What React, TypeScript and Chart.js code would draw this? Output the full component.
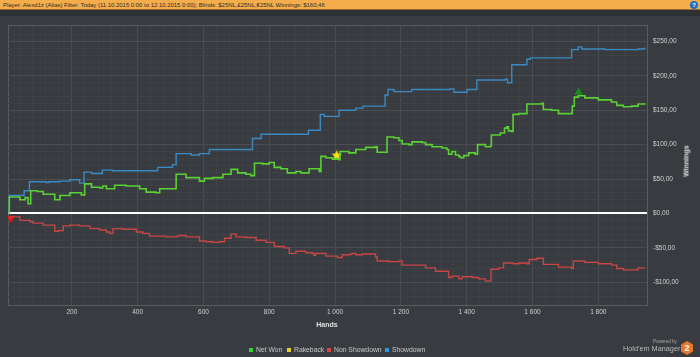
import React, { useEffect, useRef } from "react";
import { Chart, registerables } from "chart.js";
Chart.register(...registerables);

// ---- data (hands, winnings in $) ----
const netWonHands = [9, 10, 42, 58, 67, 75, 95, 113, 133, 148, 164, 194, 229, 239, 260, 285, 294, 305, 330, 365, 406, 426, 456, 467, 507, 517, 547, 588, 603, 628, 659, 684, 704, 729, 744, 755, 780, 800, 815, 835, 855, 881, 896, 916, 921, 941, 952, 957, 972, 992, 1012, 1015, 1042, 1063, 1093, 1123, 1128, 1153, 1158, 1179, 1194, 1204, 1224, 1234, 1265, 1275, 1295, 1325, 1340, 1345, 1355, 1366, 1376, 1381, 1391, 1406, 1426, 1433, 1457, 1472, 1475, 1502, 1515, 1522, 1527, 1537, 1541, 1558, 1578, 1583, 1628, 1633, 1658, 1679, 1717, 1721, 1727, 1739, 1759, 1800, 1840, 1856, 1876, 1901, 1921, 1941];
const netWonValues = [0, 24, 20, 23, 14, 33, 32, 28, 28, 20, 26, 30, 27, 43, 38, 37, 40, 36, 41, 40, 36, 31, 30, 36, 36, 57, 52, 47, 51, 52, 57, 64, 59, 57, 55, 73, 72, 74, 67, 65, 59, 61, 59, 59, 65, 65, 61, 83, 81, 79, 78, 90, 88, 93, 96, 97, 89, 89, 111, 110, 106, 101, 100, 104, 103, 100, 97, 95, 93, 86, 90, 85, 83, 81, 84, 88, 86, 100, 97, 98, 114, 117, 124, 126, 120, 119, 144, 145, 145, 159, 160, 151, 150, 145, 145, 156, 169, 171, 168, 165, 162, 157, 155, 156, 159, 160];

const showdownHands = [9, 10, 55, 71, 123, 130, 164, 194, 224, 237, 260, 293, 324, 461, 506, 517, 563, 588, 618, 749, 775, 919, 955, 967, 1012, 1063, 1085, 1152, 1161, 1179, 1233, 1350, 1361, 1401, 1431, 1517, 1524, 1537, 1583, 1593, 1719, 1739, 1750, 1820, 1921, 1941];
const showdownValues = [0, 26, 33, 46, 45, 46, 47, 49, 44, 60, 58, 63, 62, 67, 71, 87, 85, 87, 93, 109, 115, 121, 144, 141, 150, 153, 156, 172, 180, 177, 180, 181, 176, 180, 194, 195, 190, 216, 224, 226, 238, 242, 239, 238, 239, 241];

const nonShowdownHands = [9, 42, 73, 83, 113, 138, 148, 159, 174, 194, 224, 255, 285, 305, 315, 325, 355, 396, 416, 436, 487, 517, 527, 547, 588, 608, 628, 648, 664, 684, 699, 729, 760, 790, 815, 845, 861, 881, 911, 931, 936, 941, 972, 1007, 1022, 1047, 1052, 1063, 1083, 1123, 1128, 1164, 1194, 1204, 1244, 1275, 1305, 1340, 1345, 1355, 1376, 1386, 1416, 1436, 1457, 1469, 1474, 1497, 1512, 1527, 1542, 1558, 1583, 1590, 1613, 1633, 1658, 1679, 1719, 1724, 1759, 1800, 1840, 1856, 1876, 1921, 1941];
const nonShowdownValues = [-5, -10, -12, -14, -17, -17, -26, -25, -18, -17, -18, -22, -24, -27, -29, -22, -23, -27, -29, -33, -34, -33, -32, -34, -40, -41, -42, -41, -36, -30, -34, -35, -39, -42, -48, -50, -58, -55, -57, -58, -61, -58, -62, -64, -60, -59, -58, -60, -59, -63, -69, -70, -69, -75, -75, -79, -84, -84, -93, -91, -95, -92, -93, -95, -98, -98, -81, -79, -72, -72, -73, -72, -73, -67, -65, -74, -74, -78, -80, -69, -71, -73, -75, -80, -82, -79, -80];

const rakebackMarker = [{ x: 1005, y: 85 }];
const maxMarker = [{ x: 1740, y: 176 }];
const minMarker = [{ x: 14, y: -7 }];

const xMin = 6;
const xMax = 1948;
const yMin = -133;
const yMax = 272.5;
const xMajorStep = 200;
const xMinorStep = 40;
const yMajorStep = 50;
const yMinorStep = 10;

const legendItems = [
  { label: "Net Won", color: "#2fd62f", left: 249 },
  { label: "Rakeback", color: "#e8d12a", left: 287 },
  { label: "Non Showdown", color: "#e04444", left: 327 },
  { label: "Showdown", color: "#2f97dc", left: 385 },
];

const FONT = '"Liberation Sans", Arial, sans-serif';

function zip(xs: number[], ys: number[]) {
  return xs.map((x, i) => ({ x, y: ys[i] }));
}

function makeStar(size: number, color: string) {
  const c = document.createElement("canvas");
  c.width = size;
  c.height = size;
  const g = c.getContext("2d")!;
  const cx = size / 2;
  const cy = size / 2 + 0.6;
  const R = size / 2;
  const r = R * 0.45;
  g.beginPath();
  for (let i = 0; i < 10; i++) {
    const a = -Math.PI / 2 + (i * Math.PI) / 5;
    const rad = i % 2 === 0 ? R : r;
    g.lineTo(cx + rad * Math.cos(a), cy + rad * Math.sin(a));
  }
  g.closePath();
  g.fillStyle = color;
  g.fill();
  return c;
}

function fmtHands(v: number) {
  const s = String(Math.round(v));
  return s.length > 3 ? s.slice(0, s.length - 3) + " " + s.slice(s.length - 3) : s;
}

function fmtMoney(v: number) {
  const a = Math.abs(v);
  return (v < 0 ? "-$" : "$") + a + ",00";
}

const MAJOR = "rgb(74,78,83)";
const MINOR = "rgb(62,65,69)";
const BORDER = "rgb(88,92,97)";

export default function App() {
  const ref = useRef<HTMLCanvasElement | null>(null);

  useEffect(() => {
    document.body.style.margin = "0";
    const star = makeStar(11, "#f5e51b");
    const chart = new Chart(ref.current!, {
      type: "line",
      data: {
        datasets: [
          {
            label: "Net Won",
            data: zip(netWonHands, netWonValues),
            borderColor: "#5ad134",
            borderWidth: 1.6,
            stepped: true,
            pointRadius: 0,
          },
          {
            label: "Rakeback",
            data: rakebackMarker,
            showLine: false,
            pointStyle: star as any,
            pointRadius: 5,
            borderColor: "#f5e51b",
            backgroundColor: "#f5e51b",
          },
          {
            label: "Non Showdown",
            data: zip(nonShowdownHands, nonShowdownValues),
            borderColor: "#c84646",
            borderWidth: 1.4,
            stepped: true,
            pointRadius: 0,
          },
          {
            label: "Showdown",
            data: zip(showdownHands, showdownValues),
            borderColor: "#3b8ac4",
            borderWidth: 1.4,
            stepped: true,
            pointRadius: 0,
          },
          {
            label: "Max",
            data: maxMarker,
            showLine: false,
            pointStyle: "triangle",
            pointRadius: 5,
            borderWidth: 0,
            backgroundColor: "#178a1b",
            borderColor: "#178a1b",
          },
          {
            label: "Min",
            data: minMarker,
            showLine: false,
            pointStyle: "triangle",
            rotation: 180,
            pointRadius: 5,
            borderWidth: 0,
            backgroundColor: "#e01a1a",
            borderColor: "#e01a1a",
          },
        ],
      },
      options: {
        animation: false,
        responsive: false,
        devicePixelRatio: 1,
        layout: { padding: { top: 4, left: 8, right: 0, bottom: 0 } },
        plugins: { legend: { display: false }, tooltip: { enabled: false } },
        scales: {
          x: {
            type: "linear",
            position: "bottom",
            min: xMin,
            max: xMax,
            afterFit: (s: any) => {
              s.height = 52;
            },
            ticks: {
              stepSize: xMinorStep,
              autoSkip: false,
              maxRotation: 0,
              padding: 3,
              color: "#d0d0d0",
              font: { family: FONT, size: 6.5 },
              callback: (v: any) => (Number(v) % xMajorStep === 0 ? fmtHands(Number(v)) : ""),
            },
            grid: {
              drawTicks: false,
              lineWidth: 1,
              color: (ctx: any) => {
                const v = ctx.tick ? ctx.tick.value : 0;
                if (v === xMin || v === xMax) return BORDER;
                return v % xMajorStep === 0 ? MAJOR : MINOR;
              },
            },
            border: { color: BORDER, width: 1 },
          },
          y: {
            type: "linear",
            position: "right",
            min: yMin,
            max: yMax,
            afterFit: (s: any) => {
              s.width = 53;
            },
            ticks: {
              stepSize: yMinorStep,
              autoSkip: false,
              padding: 6,
              color: "#d0d0d0",
              font: { family: FONT, size: 6.5 },
              callback: (v: any) => (Number(v) % yMajorStep === 0 ? fmtMoney(Number(v)) : ""),
            },
            grid: {
              drawTicks: false,
              lineWidth: (ctx: any) => (ctx.tick && ctx.tick.value === 0 ? 2 : 1),
              color: (ctx: any) => {
                const v = ctx.tick ? ctx.tick.value : 1;
                if (v === 0) return "#ffffff";
                if (v === yMin || v === yMax) return BORDER;
                return v % yMajorStep === 0 ? MAJOR : MINOR;
              },
            },
            border: { color: BORDER, width: 1 },
          },
        },
      },
    });
    return () => chart.destroy();
  }, []);

  const text: React.CSSProperties = { position: "absolute", fontFamily: FONT, whiteSpace: "nowrap" };

  return (
    <div style={{ position: "fixed", left: 0, top: 0, width: 700, height: 357, background: "#383b3f", overflow: "hidden" }}>
      <div style={{ position: "absolute", left: 0, top: 0, width: 700, height: 10, background: "#f4ad4a", borderBottom: "1px solid #9a6a2a", boxSizing: "border-box" }} />
      <div style={{ ...text, left: 3, top: 1, fontSize: 5.95, lineHeight: "8px", color: "#2b2b2b" }}>
        Player: Alexd1z (Alias) Filter: Today (11.10.2015 0:00 to 12.10.2015 0:00); Blinds: $25NL,£25NL,€25NL Winnings: $160,46
      </div>
      <div style={{ position: "absolute", left: 690, top: 1, width: 8, height: 8, borderRadius: 4, background: "#1f6fc4", color: "#fff", fontFamily: FONT, fontSize: 6, fontWeight: 700, lineHeight: "8px", textAlign: "center" }}>?</div>
      <div style={{ position: "absolute", left: 0, top: 10, width: 700, height: 6, background: "#2e3134" }} />
      <canvas ref={ref} width={700} height={341} style={{ position: "absolute", left: 0, top: 16, width: 700, height: 341 }} />
      <div style={{ ...text, left: 327, top: 321, transform: "translateX(-50%)", fontSize: 7, fontWeight: 700, color: "#e0e0e0" }}>Hands</div>
      <div style={{ ...text, left: 686, top: 161, transform: "translate(-50%,-50%) rotate(-90deg)", fontSize: 7, fontWeight: 700, color: "#e0e0e0" }}>Winnings</div>
      {legendItems.map((it) => (
        <div key={it.label} style={{ ...text, left: it.left, top: 345, fontSize: 6.8, lineHeight: "9px", color: "#c8c8c8", display: "flex", alignItems: "center" }}>
          <span style={{ display: "inline-block", width: 4, height: 4, background: it.color, marginRight: 3 }} />
          {it.label}
        </div>
      ))}
      <div style={{ ...text, left: 653, top: 339, fontSize: 4.5, color: "#a8a8a8" }}>Powered by</div>
      <div style={{ ...text, left: 623, top: 344, fontSize: 7.3, color: "#b8b8b8" }}>Hold'em Manager</div>
      <div style={{ position: "absolute", left: 681, top: 341, width: 12, height: 14, background: "#e8772e", clipPath: "polygon(50% 0, 100% 25%, 100% 75%, 50% 100%, 0 75%, 0 25%)", color: "#fff", fontFamily: FONT, fontSize: 9, fontWeight: 700, lineHeight: "14px", textAlign: "center" }}>2</div>
    </div>
  );
}
